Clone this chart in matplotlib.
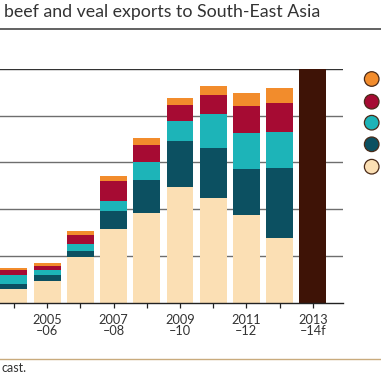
import matplotlib
matplotlib.use('Agg')
import matplotlib.pyplot as plt
from matplotlib.patches import Circle
import numpy as np

# Data (one gridline = 20 units)
seasons = ['2004\n–05', '2005\n–06', '2006\n–07', '2007\n–08', '2008\n–09',
           '2009\n–10', '2010\n–11', '2011\n–12', '2012\n–13']
forecast_label = '2013\n–14f'
cream = [5.9, 9.2, 19.4, 31.6, 38.3, 49.7, 45.0, 37.6, 27.8]
dark_teal = [2.1, 2.7, 2.7, 7.7, 14.3, 19.3, 21.2, 19.7, 30.0]
teal = [4.0, 2.0, 2.9, 4.3, 7.4, 8.6, 14.4, 15.3, 15.4]
red = [1.9, 1.8, 4.0, 8.3, 7.6, 7.1, 8.1, 11.4, 12.4]
orange = [1.1, 1.4, 1.8, 2.4, 3.0, 3.1, 3.9, 5.6, 6.4]
forecast_total = 100
gridlines = [20, 40, 60, 80, 100]

series = [cream, dark_teal, teal, red, orange]
colors = ['#fbdfb4', '#0c5061', '#1db4b8', '#a60b33', '#f28c2c']

W = H = 381
fig = plt.figure(figsize=(3.81, 3.81), dpi=100, facecolor='white')

# axes placed in pixel terms, partly running off the left edge like the crop
left_px, right_px, top_px, bottom_px = -6, 343, 69, 302.7
ax = fig.add_axes([left_px / W, 1 - bottom_px / H,
                   (right_px - left_px) / W, (bottom_px - top_px) / H])
ax.set_xlim(-0.6, 9.91)
ax.set_ylim(0, 100)

for g in gridlines:
    ax.axhline(g, color='#333333' if g == 100 else '#6e6e6e', lw=1.0, zorder=0)

x = np.arange(len(seasons))
bottom = np.zeros(len(seasons))
for vals, col in zip(series, colors):
    ax.bar(x, vals, bottom=bottom, width=0.81, color=col, linewidth=0, zorder=2)
    bottom += np.array(vals)

# forecast bar
ax.bar([len(seasons)], [forecast_total], width=0.81, color='#3e1306', linewidth=0, zorder=2)

for s in ['top', 'left', 'right']:
    ax.spines[s].set_visible(False)
ax.spines['bottom'].set_color('#222222')
ax.spines['bottom'].set_linewidth(1.0)
ax.spines['bottom'].set_zorder(3)

labels = seasons + [forecast_label]
ax.set_xticks(np.arange(len(labels)))
ax.set_xticklabels([l if i % 2 == 1 else '' for i, l in enumerate(labels)],
                   fontsize=9.2, color='#333333', linespacing=0.95, family='Lato')
ax.tick_params(axis='x', length=3.5, width=0.9, color='#222222', pad=4.5)
ax.set_yticks([])

# title and rules
fig.text(4 / W, 1 - 12 / H, 'beef and veal exports to South-East Asia',
         fontsize=12.8, color='#333333', va='center', ha='left', family='Lato')
fig.add_artist(plt.Line2D([0, 1], [1 - 28.7 / H] * 2, color='#555555', lw=1.3))
fig.add_artist(plt.Line2D([0, 1], [1 - 359 / H] * 2, color='#c9ab7d', lw=1.0))
fig.text(1 / W, 1 - 367.5 / H, 'cast.', fontsize=9, color='#333333',
         va='center', ha='left', family='Lato')

# legend markers (labels fall outside the crop)
legend_y = [79, 101.7, 122.7, 144.3, 166.7]
for yy, col in zip(legend_y, colors[::-1]):
    fig.add_artist(Circle((371.7 / W, 1 - yy / H), 7.3 / W, transform=fig.transFigure,
                          facecolor=col, edgecolor='#4a2a18', lw=0.9))

fig.savefig('out.png', dpi=100, facecolor='white')
